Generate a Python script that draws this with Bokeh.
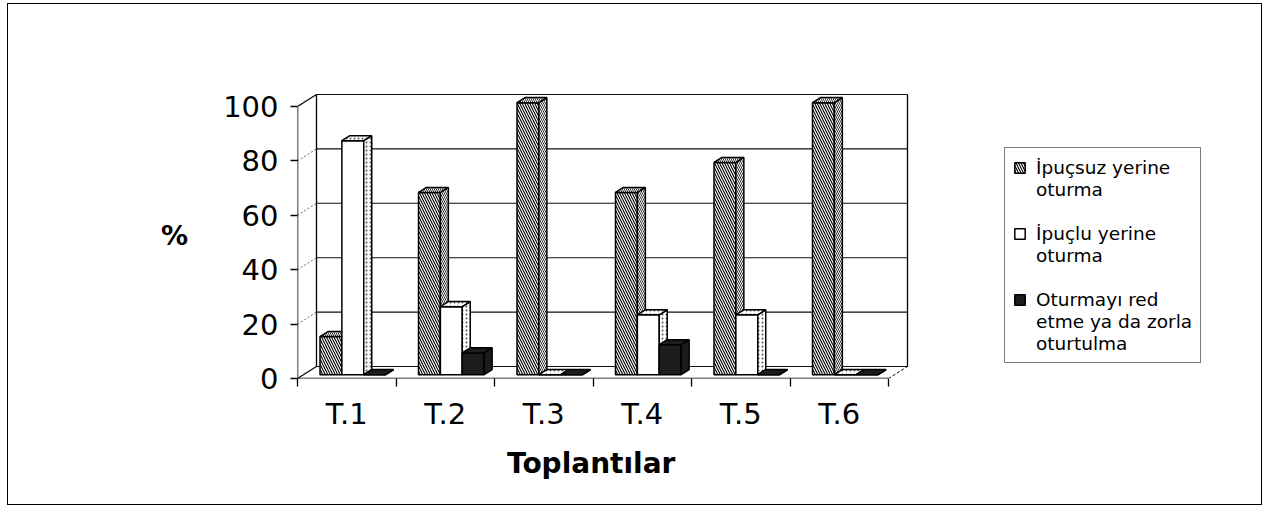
from bokeh.plotting import figure
from bokeh.models import Range1d, FixedTicker, Legend, LegendItem, Title
from bokeh.embed import file_html
from bokeh.resources import INLINE

# ---------------- data ----------------
categories = ["T.1", "T.2", "T.3", "T.4", "T.5", "T.6"]
series_labels = [["İpuçsuz yerine", "oturma"],
                 ["İpuçlu yerine", "oturma"],
                 ["Oturmayı red", "etme ya da zorla", "oturtulma"]]
ipucsuz = [14, 67, 100, 67, 78, 100]
ipuclu = [86, 25, 0, 22, 22, 0]
red_zorla = [0, 8, 0, 11, 0, 0]
y_ticks = [0, 20, 40, 60, 80, 100]
x_title = "Toplantılar"
y_title = "%"

series_values = [ipucsuz, ipuclu, red_zorla]

# ---------------- layout (pixels) ----------------
W, H = 1255, 502
OX, OY = 8, 4                                # canvas origin on the page
FL, FR, FT, FB = 297 - OX, W, 92 - OY, 378 - OY   # frame edges on canvas
PX_X = 98.5                                  # px per category
PX_Y = 2.72                                  # px per percent
n = len(categories)
x_end = (FR - FL) / PX_X
y_end = (FB - FT) / PX_Y
DX = 19 / PX_X                               # depth offset (x)
DY = 12 / PX_Y                               # depth offset (y)
BW = 1 / 4.5                                 # bar width
GAP = 0.75 * BW
F0, F1 = 0.32, 0.74                          # bar depth start/end fractions
FONT = "DejaVu Sans"

p = figure(width=W, height=H, output_backend="svg", toolbar_location=None,
           x_range=Range1d(0, x_end), y_range=Range1d(0, y_end),
           min_border_left=FL, min_border_right=0,
           min_border_top=FT, min_border_bottom=H - FB,
           background_fill_color="white", border_fill_color="white",
           outline_line_color=None,
           styles={"border": "1px solid black", "margin-left": "7px", "margin-top": "3px"})
p.xgrid.visible = False
p.ygrid.visible = False

# ---------------- back wall, floor, side wall ----------------
top_val = y_ticks[-1]
p.segment(x0=[DX] * len(y_ticks), y0=[t + DY for t in y_ticks],
          x1=[n + DX] * len(y_ticks), y1=[t + DY for t in y_ticks],
          line_color="#111111", line_width=1.1)
p.segment(x0=[DX, n + DX], y0=[DY, DY], x1=[DX, n + DX], y1=[top_val + DY, top_val + DY],
          line_color="black", line_width=1.3)
p.segment(x0=[0, 0], y0=[0, top_val], x1=[DX, DX], y1=[DY, top_val + DY],
          line_color="black", line_width=1.2)
mid = y_ticks[1:-1]
p.segment(x0=[0] * len(mid), y0=mid, x1=[DX] * len(mid), y1=[t + DY for t in mid],
          line_color="#444444", line_width=0.8, line_dash="2 2")
p.segment(x0=[n], y0=[0], x1=[n + DX], y1=[DY],
          line_color="black", line_width=1, line_dash="3 2")

# ---------------- bars ----------------
front_styles = [
    dict(fill_color="white", hatch_pattern="\\", hatch_color="black", hatch_scale=5, hatch_weight=1.1),
    dict(fill_color="white"),
    dict(fill_color="#1c1c1c"),
]
face_styles = [
    dict(fill_color="white", hatch_pattern="\\", hatch_color="#333333", hatch_scale=4, hatch_weight=1),
    dict(fill_color="white", hatch_pattern=".", hatch_color="#555555", hatch_scale=4, hatch_weight=1),
    dict(fill_color="#1c1c1c"),
]
ddx = (F1 - F0) * DX
ddy = (F1 - F0) * DY
front_renderers = []
for j, vals in enumerate(series_values):
    lefts = [i + GAP + j * BW + F0 * DX for i in range(n)]
    rights = [l + BW for l in lefts]
    bottoms = [F0 * DY] * n
    tops = [v + F0 * DY for v in vals]
    r = p.quad(left=lefts, right=rights, bottom=bottoms, top=tops,
               line_color="black", line_width=1.5, **front_styles[j])
    front_renderers.append(r)
    side_xs = [[rr, rr, rr + ddx, rr + ddx] for rr in rights]
    side_ys = [[b, t, t + ddy, b + ddy] for b, t in zip(bottoms, tops)]
    p.patches(side_xs, side_ys, line_color="black", line_width=1.5, **face_styles[j])
    top_xs = [[l, rr, rr + ddx, l + ddx] for l, rr in zip(lefts, rights)]
    top_ys = [[t, t, t + ddy, t + ddy] for t in tops]
    p.patches(top_xs, top_ys, line_color="black", line_width=1.5, **face_styles[j])

p.segment(x0=[0, 0], y0=[0, 0], x1=[0, n], y1=[top_val, 0], line_color="black", line_width=1.5)

# invisible renderer for legend continuation lines (no swatch)
blank = p.quad(left=[], right=[], bottom=[], top=[], fill_alpha=0, line_alpha=0)

# ---------------- axes ----------------
ya = p.yaxis[0]
ya.ticker = FixedTicker(ticks=y_ticks, minor_ticks=[])
ya.axis_line_color = None
ya.major_tick_out = 7
ya.major_tick_in = 0
ya.major_tick_line_width = 1.3
ya.minor_tick_line_color = None
ya.major_label_text_font = FONT
ya.major_label_text_font_size = "29px"
ya.major_label_text_color = "black"
ya.major_label_standoff = 12
ya.axis_label = y_title
ya.axis_label_orientation = "horizontal"
ya.axis_label_text_font = FONT
ya.axis_label_text_font_size = "27px"
ya.axis_label_text_font_style = "bold"
ya.axis_label_text_color = "black"
ya.axis_label_standoff = 32

xa = p.xaxis[0]
centers = [i + 0.5 for i in range(n)]
xa.bounds = (0, n)
xa.ticker = FixedTicker(ticks=centers, minor_ticks=list(range(n + 1)))
xa.major_label_overrides = {c: lab for c, lab in zip(centers, categories)}
xa.axis_line_color = None
xa.major_tick_line_color = None
xa.minor_tick_out = 8
xa.minor_tick_in = 0
xa.minor_tick_line_width = 1.3
xa.minor_tick_line_color = "black"
xa.major_label_text_font = FONT
xa.major_label_text_font_size = "29px"
xa.major_label_text_color = "black"
xa.major_label_standoff = 10

# axis title, centred under the six categories
title_w = 172
xt = Title(text=x_title, align="left", offset=(n * PX_X - title_w) / 2,
           text_font=FONT, text_font_size="28px", text_font_style="bold",
           text_color="black", standoff=22)
p.add_layout(xt, "below")

# ---------------- legend ----------------
items = []
for j, lines in enumerate(series_labels):
    if j > 0:
        items.append(LegendItem(label=" ", renderers=[blank]))
    for k, line in enumerate(lines):
        items.append(LegendItem(label=line, renderers=[front_renderers[j] if k == 0 else blank]))

legend = Legend(items=items, location=(1004 - 297, 15),
                border_line_color="black", border_line_width=1,
                background_fill_color="white", background_fill_alpha=1,
                label_text_font=FONT, label_text_font_size="18.5px",
                label_text_color="black", label_height=22,
                glyph_width=13, glyph_height=13, label_standoff=10,
                spacing=0, padding=8, margin=0)
p.add_layout(legend, "center")

open("out.html", "w").write(file_html(p, INLINE))
